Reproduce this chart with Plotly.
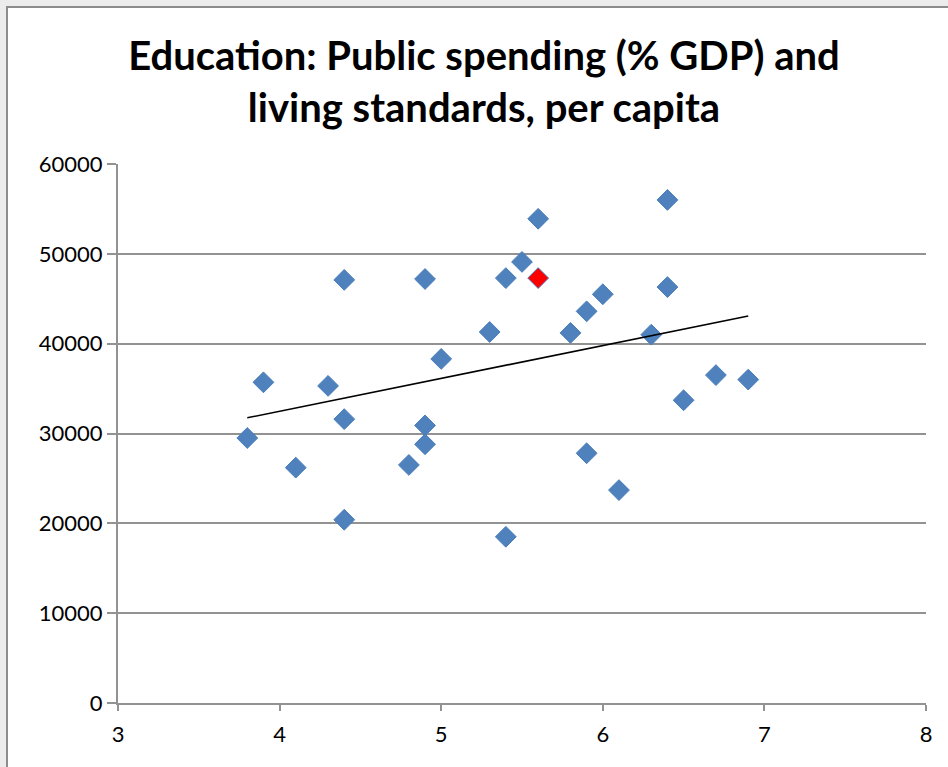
import numpy as np
import plotly.graph_objects as go

# Public spending on education (% of GDP)
spending = [3.8, 3.9, 4.1, 4.3, 4.4, 4.4, 4.4, 4.8, 4.9, 4.9, 4.9, 5.0, 5.3, 5.4, 5.4,
            5.5, 5.6, 5.6, 5.8, 5.9, 5.9, 6.0, 6.1, 6.3, 6.4, 6.4, 6.5, 6.7, 6.9]
# Living standards per capita
living = [29500, 35700, 26200, 35300, 47100, 31600, 20400, 26500, 47200, 30900, 28800,
          38300, 41300, 47300, 18500, 49100, 53900, 47300, 41200, 43600, 27800, 45500,
          23700, 41000, 56000, 46300, 33700, 36500, 36000]
# highlighted point (shown in red)
highlight = [False] * 17 + [True] + [False] * 11

title_text = "Education: Public spending (% GDP) and<br>living standards, per capita"
x_ticks = [3, 4, 5, 6, 7, 8]
y_ticks = [0, 10000, 20000, 30000, 40000, 50000, 60000]
y_tick_labels = [str(v) for v in y_ticks]

fill_colors = ["#FF0000" if h else "#4F81BD" for h in highlight]

slope, intercept = np.polyfit(spending, living, 1)
trend_x = [min(spending), max(spending)]
trend_y = [slope * v + intercept for v in trend_x]

fig = go.Figure()
fig.add_trace(go.Scatter(
    x=spending, y=living, mode="markers",
    marker=dict(symbol="diamond", size=16, color=fill_colors,
                line=dict(color="#4A7EBB", width=1)),
    showlegend=False, hoverinfo="x+y",
))
fig.add_trace(go.Scatter(
    x=trend_x, y=trend_y, mode="lines",
    line=dict(color="#000000", width=1.6),
    showlegend=False, hoverinfo="skip",
))

ML, MR, MT, MB = 118, 22, 164, 64
W, H = 948, 767
pw, ph = W - ML - MR, H - MT - MB

def px_x(p):
    return (p - ML) / pw

def px_y(p):
    return (H - MB - p) / ph

fig.add_shape(type="rect", xref="paper", yref="paper",
              x0=px_x(7), x1=px_x(W + 20), y0=px_y(H + 20), y1=px_y(7),
              fillcolor="#FFFFFF", line=dict(color="#8C8C8C", width=2), layer="below")

fig.update_layout(
    width=W, height=H,
    margin=dict(l=ML, r=MR, t=MT, b=MB, pad=0),
    paper_bgcolor="#ECECEC", plot_bgcolor="rgba(0,0,0,0)",
    title=dict(text=title_text, x=484 / W, xref="container", xanchor="center",
               y=1 - 70 / H, yanchor="middle",
               font=dict(family="Lato", size=40, color="#000000", weight="bold")),
    font=dict(family="Lato", size=22, color="#000000"),
    xaxis=dict(range=[3, 8], tickvals=x_ticks, showgrid=False, zeroline=False,
               showline=True, linecolor="#929292", linewidth=2,
               ticks="outside", ticklen=6, tickcolor="#929292", tickwidth=2,
               ticklabelstandoff=5),
    yaxis=dict(range=[0, 60000], tickvals=y_ticks, ticktext=y_tick_labels,
               showgrid=True, gridcolor="#929292",
               gridwidth=1.5, zeroline=False, showline=True, linecolor="#929292",
               linewidth=2, ticks="outside", ticklen=9, tickcolor="#929292", tickwidth=1.5,
               ticklabelstandoff=0),
)

fig.write_html("out.html")
